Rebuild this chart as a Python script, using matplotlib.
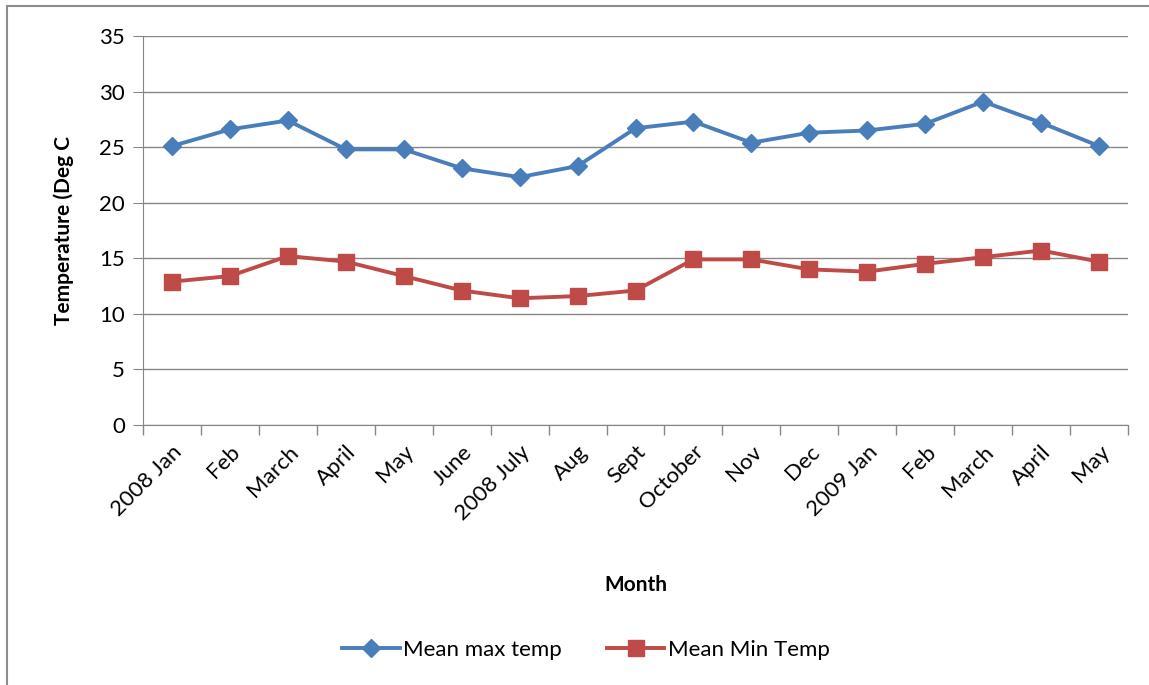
import numpy as np
import matplotlib.pyplot as plt
from matplotlib.patches import Rectangle

plt.rcParams['font.family'] = ['Lato', 'DejaVu Sans']

months = ["2008 Jan", "Feb", "March", "April", "May", "June", "2008 July",
          "Aug", "Sept", "October", "Nov", "Dec", "2009 Jan", "Feb",
          "March", "April", "May"]
mean_max = [25.1, 26.6, 27.4, 24.8, 24.8, 23.1, 22.3, 23.3, 26.7, 27.3,
            25.4, 26.3, 26.5, 27.1, 29.1, 27.2, 25.1]
mean_min = [12.9, 13.4, 15.2, 14.7, 13.4, 12.1, 11.4, 11.6, 12.1, 14.9,
            14.9, 14.0, 13.8, 14.5, 15.1, 15.7, 14.7]
y_ticks = [0, 5, 10, 15, 20, 25, 30, 35]

blue = '#4A7EBB'
red = '#BE4B48'
grid_gray = '#868686'

fig = plt.figure(figsize=(11.49, 6.85), dpi=100)
ax = fig.add_axes([0.1245, 0.3796, 0.8572, 0.5678])

# outer chart border
fig.patches.append(Rectangle((0.006, -0.01), 1.0, 1.001, transform=fig.transFigure,
                             fill=False, edgecolor='#8c8c8c', linewidth=1.5))

x = np.arange(len(months))
ax.plot(x, mean_max, color=blue, linewidth=2.8, marker='D', markersize=9.5,
        label='Mean max temp', zorder=3)
ax.plot(x, mean_min, color=red, linewidth=2.8, marker='s', markersize=12,
        label='Mean Min Temp', zorder=3)

ax.set_xlim(-0.5, len(months) - 0.5)
ax.set_ylim(0, 35)
ax.set_yticks(y_ticks)
ax.yaxis.grid(True, color=grid_gray, linewidth=1)
ax.set_axisbelow(True)

ax.set_xticks(x)
ax.set_xticklabels(months, rotation=45, ha='right', rotation_mode='anchor',
                   fontsize=16)
ax.set_xticks(np.arange(-0.5, len(months)), minor=True)
ax.tick_params(axis='x', which='major', length=0, pad=12)
ax.tick_params(axis='x', which='minor', length=7, color=grid_gray, width=1)
ax.tick_params(axis='y', length=7, color=grid_gray, labelsize=16, pad=6)

for side in ['top', 'right']:
    ax.spines[side].set_visible(False)
for side in ['left', 'bottom']:
    ax.spines[side].set_color(grid_gray)

ax.set_ylabel('Temperature (Deg C', fontsize=15, fontweight='bold', labelpad=18)
ax.set_xlabel('Month', fontsize=15, fontweight='bold', labelpad=37)

fig.legend(loc='center', bbox_to_anchor=(0.51, 0.051), ncol=2, frameon=False,
           fontsize=16, handlelength=2.6, columnspacing=2.0, handletextpad=0.15)

plt.savefig('out.png', dpi=100)
